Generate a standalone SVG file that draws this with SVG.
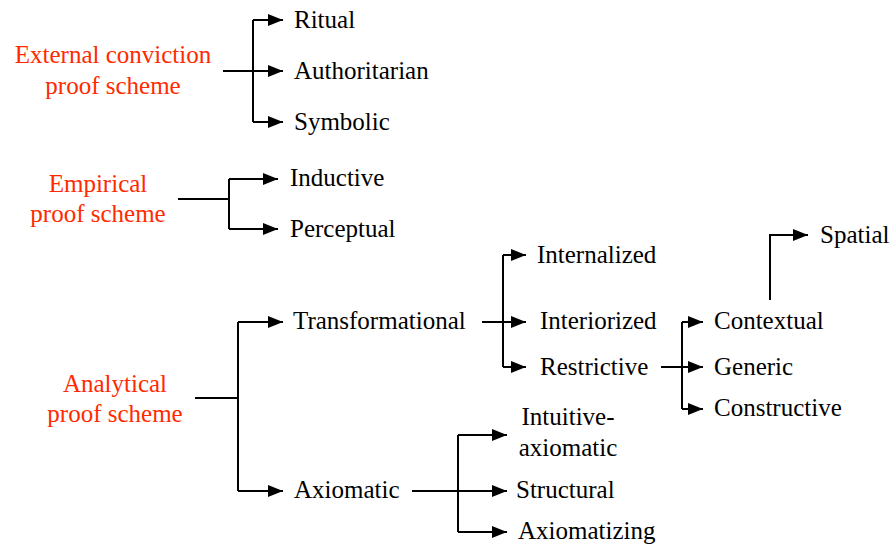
<svg xmlns="http://www.w3.org/2000/svg" width="891" height="544" viewBox="0 0 891 544">
<defs>
<marker id="ah" markerUnits="userSpaceOnUse" markerWidth="16" markerHeight="12" refX="15" refY="6" orient="auto">
<path d="M0,0 L15,6 L0,12 z" fill="#000"/>
</marker>
<style>
.c{fill:none;stroke:#000;stroke-width:2}
.a{fill:none;stroke:#000;stroke-width:2;marker-end:url(#ah)}
</style>
</defs>
<rect width="891" height="544" fill="#fff"/>
<g id="connectors">
<path class="c" d="M223,71 H253 M253,20 V122"/>
<path class="a" d="M253,20 H283"/>
<path class="a" d="M253,71 H283"/>
<path class="a" d="M253,122 H283"/>
<path class="c" d="M178,199 H229 M229,179 V229"/>
<path class="a" d="M229,179 H278"/>
<path class="a" d="M229,229 H278"/>
<path class="c" d="M195,398 H238 M238,322 V491"/>
<path class="a" d="M238,322 H283"/>
<path class="a" d="M238,491 H283"/>
<path class="c" d="M482,322 H503 M503,255 V367"/>
<path class="a" d="M503,255 H526"/>
<path class="a" d="M503,322 H526"/>
<path class="a" d="M503,367 H526"/>
<path class="c" d="M661,367 H682 M682,322 V409"/>
<path class="a" d="M682,322 H703"/>
<path class="a" d="M682,367 H703"/>
<path class="a" d="M682,409 H703"/>
<path class="a" d="M770,300 V235 H808"/>
<path class="c" d="M412,491 H458 M458,435 V532"/>
<path class="a" d="M458,435 H507"/>
<path class="a" d="M458,491 H507"/>
<path class="a" d="M458,532 H507"/>
</g>
<g font-family="Liberation Serif, DejaVu Serif, serif" font-size="25" fill="#000">
<g id="external" fill="#ff2a00" text-anchor="middle"><text x="113" y="63">External conviction</text><text x="113" y="94">proof scheme</text></g>
<g id="ritual"><text x="294" y="28">Ritual</text></g>
<g id="authoritarian"><text x="294" y="79">Authoritarian</text></g>
<g id="symbolic"><text x="294" y="130">Symbolic</text></g>
<g id="empirical" fill="#ff2a00" text-anchor="middle"><text x="98" y="192">Empirical</text><text x="98" y="222">proof scheme</text></g>
<g id="inductive"><text x="290" y="186">Inductive</text></g>
<g id="perceptual"><text x="290" y="237">Perceptual</text></g>
<g id="analytical" fill="#ff2a00" text-anchor="middle"><text x="115" y="392">Analytical</text><text x="115" y="422">proof scheme</text></g>
<g id="transformational"><text x="293" y="329">Transformational</text></g>
<g id="axiomatic"><text x="294" y="498">Axiomatic</text></g>
<g id="internalized"><text x="537" y="263">Internalized</text></g>
<g id="interiorized"><text x="540" y="329">Interiorized</text></g>
<g id="restrictive"><text x="540" y="375">Restrictive</text></g>
<g id="contextual"><text x="714" y="329">Contextual</text></g>
<g id="generic"><text x="714" y="375">Generic</text></g>
<g id="constructive"><text x="714" y="416">Constructive</text></g>
<g id="spatial"><text x="820" y="243">Spatial</text></g>
<g id="intuitive" text-anchor="middle"><text x="568" y="425">Intuitive-</text><text x="568" y="456">axiomatic</text></g>
<g id="structural"><text x="516" y="498">Structural</text></g>
<g id="axiomatizing"><text x="518" y="539">Axiomatizing</text></g>
</g>
</svg>
